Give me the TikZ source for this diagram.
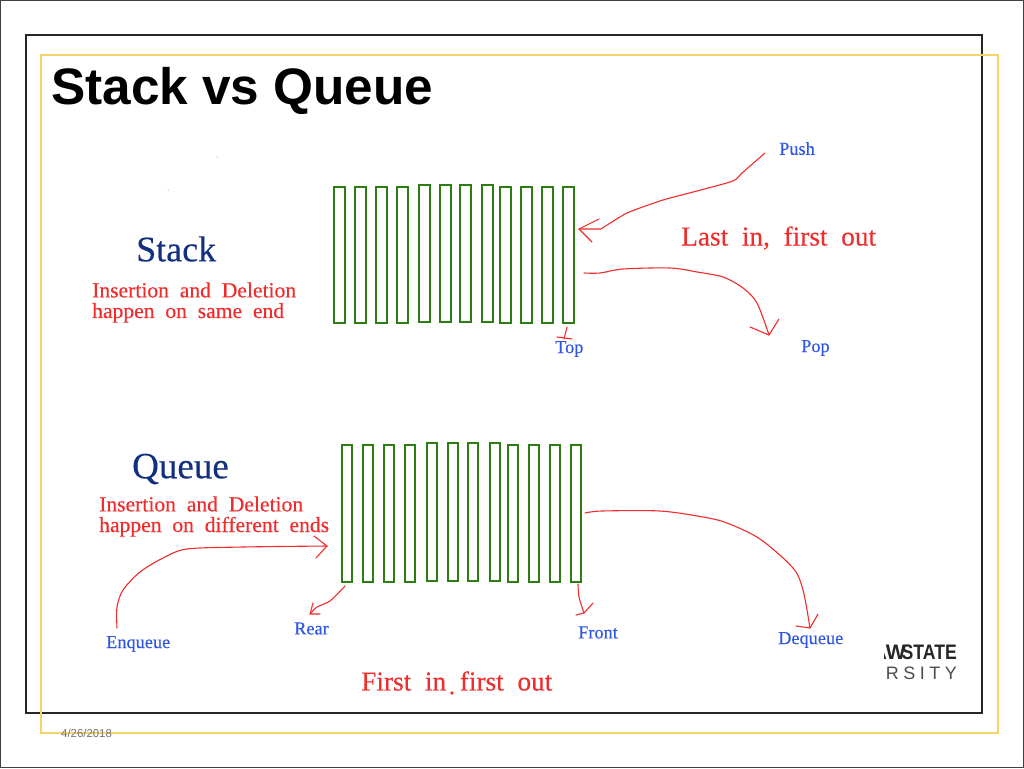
\documentclass[tikz,border=0pt]{standalone}
\usepackage{fontspec}
\usepackage{graphicx}
\setmainfont{Liberation Serif}[FakeBold=0.25]
\setsansfont{Liberation Sans}
\definecolor{barg}{HTML}{2E7D12}
\definecolor{inkr}{HTML}{F02C2C}
\definecolor{inkb}{HTML}{2F55E8}
\definecolor{navy}{HTML}{12307F}
\definecolor{gold}{HTML}{F5D36B}
\newcommand{\fs}[1]{\fontsize{#1}{#1}\selectfont}
\tikzset{
 x=1pt,y=-1pt,
 bar/.style={draw=barg,line width=2.3pt,fill=white},
 ink/.style={draw=inkr,line width=1.1pt,line cap=round,line join=round},
 lbl/.style={text=inkb,inner sep=0pt,font=\fs{18.3}},
 red/.style={text=inkr,inner sep=0pt,align=left,font=\fs{21.6}},
 head/.style={text=navy,inner sep=0pt,font=\fs{36}},
}
\begin{document}
\begin{tikzpicture}
\useasboundingbox (0,0) rectangle (1024,768);
\fill[white] (0,0) rectangle (1024,768);
\draw[black!75,line width=1.5pt] (0.5,0.5) rectangle (1023.5,767.5);
\draw[black!85,line width=1.1pt] (26,35) rectangle (982,713);
\draw[gold,line width=1.6pt] (41,55) rectangle (998,733);
\fill[black!60] (217,157) circle (0.5) (168,190) circle (0.5);
\node[anchor=west,inner sep=0pt,font=\sffamily\bfseries\fs{51.3}] (title) at (51,91) {Stack vs Queue};
\node[anchor=west,inner sep=0pt,text=black!55,font=\sffamily\fs{11.4}] (date) at (61,733) {4/26/2018};
% stack bars
\foreach \n/\l/\t/\b in {1/334/187/323,2/355/187/323,3/376/187/323,4/397/187/323,5/419/185/322,6/440/185/322,7/460/185/322,8/482/185/322,9/500/187/323,10/521/187/323,11/542/187/323,12/563/187/323}
  \draw[bar] (\l,\t) rectangle (\l+11,\b);
% queue bars
\foreach \n/\l/\t/\b in {1/342/445/582,2/363/445/582,3/384/445/582,4/405/445/582,5/427/443/581,6/448/443/581,7/468/443/581,8/490/443/581,9/508/445/582,10/529/445/582,11/550/445/582,12/571/445/582}
  \draw[bar] (\l,\t) rectangle (\l+10,\b);
% texts
\node[head,anchor=west] (stackh) at (136,249) {Stack};
\node[red,anchor=west] (stackd) at (92,302.5) {Insertion\ \ and\ \ Deletion\\[-1pt]happen\ \ on\ \ same\ \ end};
\node[head,anchor=west,font=\fs{37}] (queueh) at (132,469) {Queue};
\node[red,anchor=west] (queued) at (99,516.5) {Insertion\ \ and\ \ Deletion\\[-1pt]happen\ \ on\ \ different\ \ ends};
\node[red,anchor=west,font=\fs{27.3}] (lifo) at (681,238) {Last\ \ in,\ \ first\ \ out};
\node[red,anchor=west,font=\fs{27.3}] (fifo) at (361,681) {First\ \ in\ \ first\ \ out};
\fill[inkr] (452,693) circle (1.8);
\node[lbl,anchor=west] (push) at (779,148.5) {Push};
\node[lbl,anchor=west] (pop) at (801,348) {Pop};
\node[lbl,anchor=west] (top) at (555,349) {Top};
\node[lbl,anchor=west] (enq) at (106,644) {Enqueue};
\node[lbl,anchor=west] (rear) at (294,628.5) {Rear};
\node[lbl,anchor=west] (front) at (578,632.5) {Front};
\node[lbl,anchor=west] (deq) at (778,640) {Dequeue};
% logo fragment
\begin{scope}
\clip (884,630) rectangle (965,690);
\node[anchor=east,inner sep=0pt,text=black!85,font=\sffamily\bfseries\fs{21}] (logoa) at (906,652) {AW};
\node[anchor=east,inner sep=0pt,text=black!85,font=\sffamily\bfseries\fs{21}] (logoc) at (957,652) {\scalebox{0.84}[1]{STATE}};
\node[anchor=east,inner sep=0pt,text=black!70,font=\sffamily\fs{18}] (logob) at (957,673) {R\hspace{4.5pt}S\hspace{4.5pt}I\hspace{4.5pt}T\hspace{4.5pt}Y};
\end{scope}
% connectors
\coordinate (pushS) at (765,153);
\coordinate (pushE) at (579,229);
\coordinate (popS) at (584,273);
\coordinate (popE) at (769,335);
\coordinate (topS) at (567,327);
\coordinate (topE) at (564,339);
\coordinate (enqS) at (117,628);
\coordinate (enqE) at (327,546);
\coordinate (rearS) at (345,586);
\coordinate (rearE) at (310,614);
\coordinate (frontS) at (578,584);
\coordinate (frontE) at (584,613);
\coordinate (deqS) at (585,513);
\coordinate (deqE) at (810,628);
\draw[ink] plot[smooth,tension=0.35] coordinates {(pushS) (742,173) (733,181) (697,191) (663,200) (627,213) (601,229)} -- (pushE);
\draw[ink] (599,219) -- (pushE) -- (592,242);
\draw[ink] plot[smooth,tension=0.5] coordinates {(popS) (600,273) (623,269) (670,268) (697,272) (723,277) (743,288) (757,303) (popE)};
\draw[ink] (750,327) -- (popE) -- (779,319);
\draw[ink] (topS) -- (topE);
\draw[ink] (557,337) -- (572,339);
\draw[ink] plot[smooth,tension=0.5] coordinates {(enqS) (117,607) (123,590) (140,572) (163,558) (187,549) (243,547) (enqE)};
\draw[ink] (314,536) -- (enqE) -- (316,558);
\draw[ink] plot[smooth,tension=0.4] coordinates {(rearS) (330,601) (317,607) (rearE)};
\draw[ink] (313,603) -- (rearE) -- (320,614);
\draw[ink] plot[smooth,tension=0.5] coordinates {(frontS) (579,597) (frontE)};
\draw[ink] (576,615) -- (frontE) -- (593,603);
\draw[ink] plot[smooth,tension=0.5] coordinates {(deqS) (602,511) (660,511) (703,517) (727,523) (760,539) (793,568) (803,590) (deqE)};
\draw[ink] (796,626) -- (deqE) -- (818,614);
\end{tikzpicture}
\end{document}
